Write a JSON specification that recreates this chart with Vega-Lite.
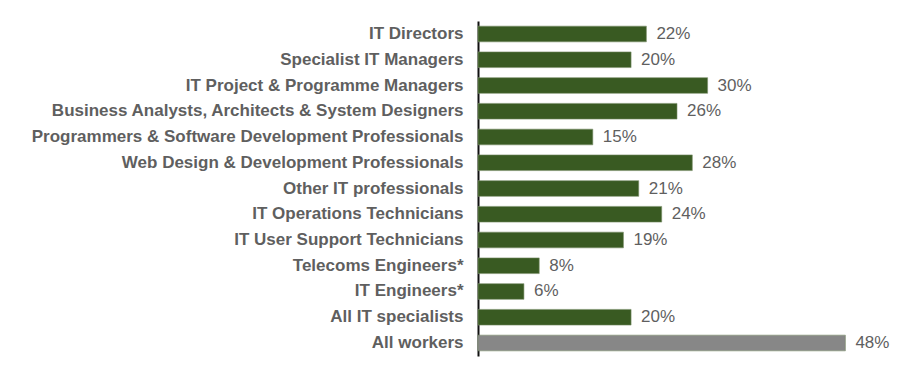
{
  "$schema": "https://vega.github.io/schema/vega-lite/v6.json",
  "autosize": "none",
  "padding": {"left": 478, "top": 21, "right": 46, "bottom": 17},
  "width": 398,
  "height": 335,
  "background": "white",
  "config": {"view": {"stroke": null}, "font": "Liberation Sans"},
  "data": {"values": [
    {"role": "IT Directors", "pct": 22, "group": "IT"},
    {"role": "Specialist IT Managers", "pct": 20, "group": "IT"},
    {"role": "IT Project & Programme Managers", "pct": 30, "group": "IT"},
    {"role": "Business Analysts, Architects & System Designers", "pct": 26, "group": "IT"},
    {"role": "Programmers & Software Development Professionals", "pct": 15, "group": "IT"},
    {"role": "Web Design & Development Professionals", "pct": 28, "group": "IT"},
    {"role": "Other IT professionals", "pct": 21, "group": "IT"},
    {"role": "IT Operations Technicians", "pct": 24, "group": "IT"},
    {"role": "IT User Support Technicians", "pct": 19, "group": "IT"},
    {"role": "Telecoms Engineers*", "pct": 8, "group": "IT"},
    {"role": "IT Engineers*", "pct": 6, "group": "IT"},
    {"role": "All IT specialists", "pct": 20, "group": "IT"},
    {"role": "All workers", "pct": 48, "group": "All"}
  ]},
  "transform": [{"calculate": "datum.pct + '%'", "as": "label"}],
  "encoding": {
    "y": {"field": "role", "type": "nominal", "sort": null,
      "scale": {"paddingInner": 0.39, "paddingOuter": 0.2},
      "axis": {"title": null, "ticks": false, "labelFontSize": 17, "labelFontWeight": "bold", "labelColor": "#5f5f5f", "labelPadding": 15, "domainColor": "#111111", "domainWidth": 2, "labelLimit": 470}},
    "x": {"field": "pct", "type": "quantitative", "scale": {"domain": [0, 52]}, "axis": null}
  },
  "layer": [
    {"mark": {"type": "bar", "stroke": "#7a8f6a", "strokeWidth": 0.6},
     "encoding": {"color": {"field": "group", "type": "nominal", "scale": {"domain": ["IT", "All"], "range": ["#395a22", "#878787"]}, "legend": null}}},
    {"mark": {"type": "text", "align": "left", "dx": 10, "fontSize": 17, "color": "#5f5f5f"},
     "encoding": {"text": {"field": "label", "type": "nominal"}}}
  ]
}
